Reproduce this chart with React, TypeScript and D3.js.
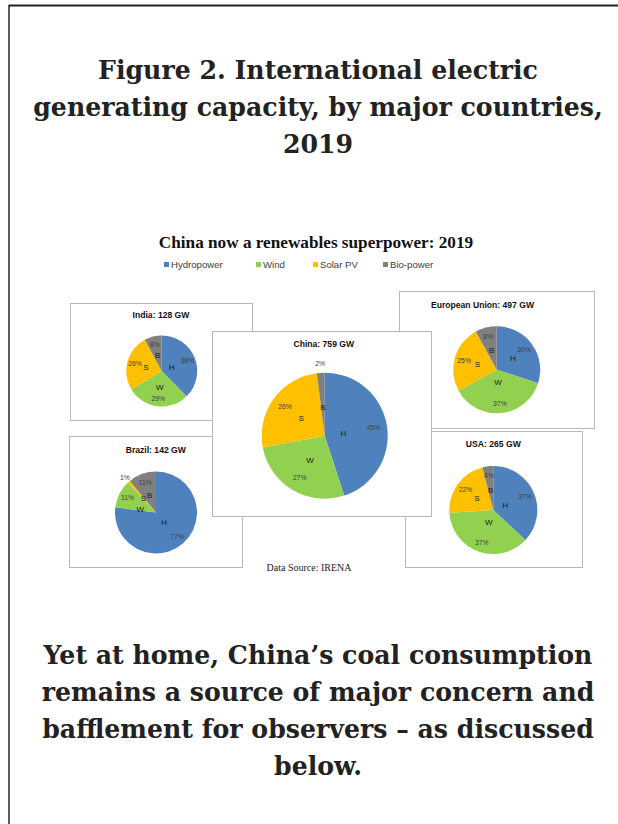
import React from 'react';
import * as d3 from 'd3';

// categories and colours (Excel defaults)
const categories = ['Hydropower', 'Wind', 'Solar PV', 'Bio-power'];
const shortLabels = ['H', 'W', 'S', 'B'];
const colors = ['#4f81bd', '#92d050', '#ffc000', '#808080'];

// countries, capacity (GW) and shares (%)
const countries = ['India', 'European Union', 'Brazil', 'USA', 'China'];
const totalsGW = [128, 497, 142, 265, 759];
const hydroShare = [38, 30, 77, 37, 45];
const windShare = [29, 37, 11, 37, 27];
const solarShare = [26, 25, 1, 22, 26];
const bioShare = [8, 8, 11, 4, 2];

const titleLines = [
  'Figure 2. International electric',
  'generating capacity, by major countries,',
  '2019',
];
const chartTitle = 'China now a renewables superpower: 2019';
const sourceNote = 'Data Source: IRENA';
const bodyLines = [
  'Yet at home, China\u2019s coal consumption',
  'remains a source of major concern and',
  'bafflement for observers \u2013 as discussed',
  'below.',
];

// panel layout: box and pie placement (drawn in this order, China last / on top)
// nudge: extra [dx, dy] for a letter label, keyed by category index
const panels = [
  { box: [70, 303, 182, 117], title: [161, 318], pie: [161.7, 371, 35.5], nudge: {} },
  { box: [399, 291, 195, 137], title: [482.5, 308], pie: [496.7, 369.7, 43.5], nudge: {} },
  { box: [69, 436, 173, 131], title: [155.8, 453], pie: [156, 512.5, 41], nudge: { 1: [1, 5] } },
  { box: [405, 431, 177, 136], title: [493.3, 447], pie: [493.3, 510, 44], nudge: {} },
  { box: [212, 331, 219, 185], title: [323.8, 347], pie: [324.7, 435.7, 63], nudge: {} },
];

const W = 618;
const H = 824;

const App: React.FC = () => {
  const pie = d3
    .pie<number>()
    .sort(null)
    .value((d) => d);

  const legendX = d3.scaleOrdinal<string, number>().domain(categories).range([164, 256, 313, 383]);

  return (
    <svg
      width={W}
      height={H}
      style={{ position: 'absolute', left: 0, top: 0, background: '#fff' }}
    >
      {/* page frame */}
      <line x1={9} y1={5.5} x2={W} y2={5.5} stroke="#222" strokeWidth={2} />
      <line x1={9} y1={5} x2={9} y2={H} stroke="#222" strokeWidth={1.5} />

      {/* heading */}
      {titleLines.map((t, i) => (
        <text
          key={t}
          x={318}
          y={79 + i * 37}
          textAnchor="middle"
          fontFamily="'DejaVu Serif', serif"
          fontWeight="bold"
          fontSize={25.2}
          fill="#222"
        >
          {t}
        </text>
      ))}

      {/* chart title */}
      <text
        x={316}
        y={248}
        textAnchor="middle"
        fontFamily="'Liberation Serif', 'Times New Roman', serif"
        fontWeight="bold"
        fontSize={17.2}
        fill="#111"
      >
        {chartTitle}
      </text>

      {/* legend */}
      {categories.map((c, i) => (
        <g key={c} transform={`translate(${legendX(c)},265)`}>
          <rect x={0} y={-3} width={5} height={5} fill={colors[i]} />
          <text
            x={7}
            y={3}
            fontFamily="'Liberation Sans', Arial, sans-serif"
            fontSize={9.6}
            fill="#404040"
          >
            {c}
          </text>
        </g>
      ))}

      {/* panels */}
      {panels.map((p, k) => {
        const shares = [hydroShare[k], windShare[k], solarShare[k], bioShare[k]];
        const [cx, cy, r] = p.pie;
        const arcs = pie(shares);
        const arc = d3.arc<d3.PieArcDatum<number>>().innerRadius(0).outerRadius(r);
        const total = d3.sum(shares);
        const at = (a: d3.PieArcDatum<number>, f: number) => {
          const m = (a.startAngle + a.endAngle) / 2;
          return [Math.sin(m) * r * f, -Math.cos(m) * r * f];
        };
        const nudge = p.nudge as Record<number, number[]>;
        return (
          <g key={countries[k]}>
            <rect
              x={p.box[0] + 0.5}
              y={p.box[1] + 0.5}
              width={p.box[2]}
              height={p.box[3]}
              fill="#fff"
              stroke="#b8b8b8"
              strokeWidth={1}
            />
            <text
              x={p.title[0]}
              y={p.title[1]}
              textAnchor="middle"
              fontFamily="'Liberation Sans', Arial, sans-serif"
              fontWeight="bold"
              fontSize={8.6}
              fill="#111"
            >
              {`${countries[k]}: ${totalsGW[k]} GW`}
            </text>
            <g transform={`translate(${cx},${cy})`}>
              {arcs.map((a, i) => (
                <path key={i} d={arc(a) || ''} fill={colors[i]} />
              ))}
              {arcs.map((a, i) => {
                const frac = a.data / total;
                const small = frac < 0.03;
                const [lx, ly] = at(a, frac >= 0.36 ? 0.3 : 0.46);
                const [ndx, ndy] = nudge[i] || [0, 0];
                const [px, py] = at(a, small ? 1.15 : 0.78);
                return (
                  <g key={'l' + i} fontFamily="'Liberation Sans', Arial, sans-serif">
                    <text
                      x={lx + ndx}
                      y={ly + ndy}
                      dy="0.35em"
                      textAnchor="middle"
                      fontSize={8}
                      fill="#1a1a1a"
                    >
                      {shortLabels[i]}
                    </text>
                    <text x={px} y={py} dy="0.35em" textAnchor="middle" fontSize={6.8} fill="#404040">
                      {`${a.data}%`}
                    </text>
                  </g>
                );
              })}
            </g>
          </g>
        );
      })}

      {/* source */}
      <text
        x={309}
        y={571}
        textAnchor="middle"
        fontFamily="'Liberation Serif', 'Times New Roman', serif"
        fontSize={10}
        fill="#222"
      >
        {sourceNote}
      </text>

      {/* closing paragraph */}
      {bodyLines.map((t, i) => (
        <text
          key={t}
          x={318}
          y={664 + i * 37}
          textAnchor="middle"
          fontFamily="'DejaVu Serif', serif"
          fontWeight="bold"
          fontSize={25.2}
          fill="#222"
        >
          {t}
        </text>
      ))}
    </svg>
  );
};

export default App;
